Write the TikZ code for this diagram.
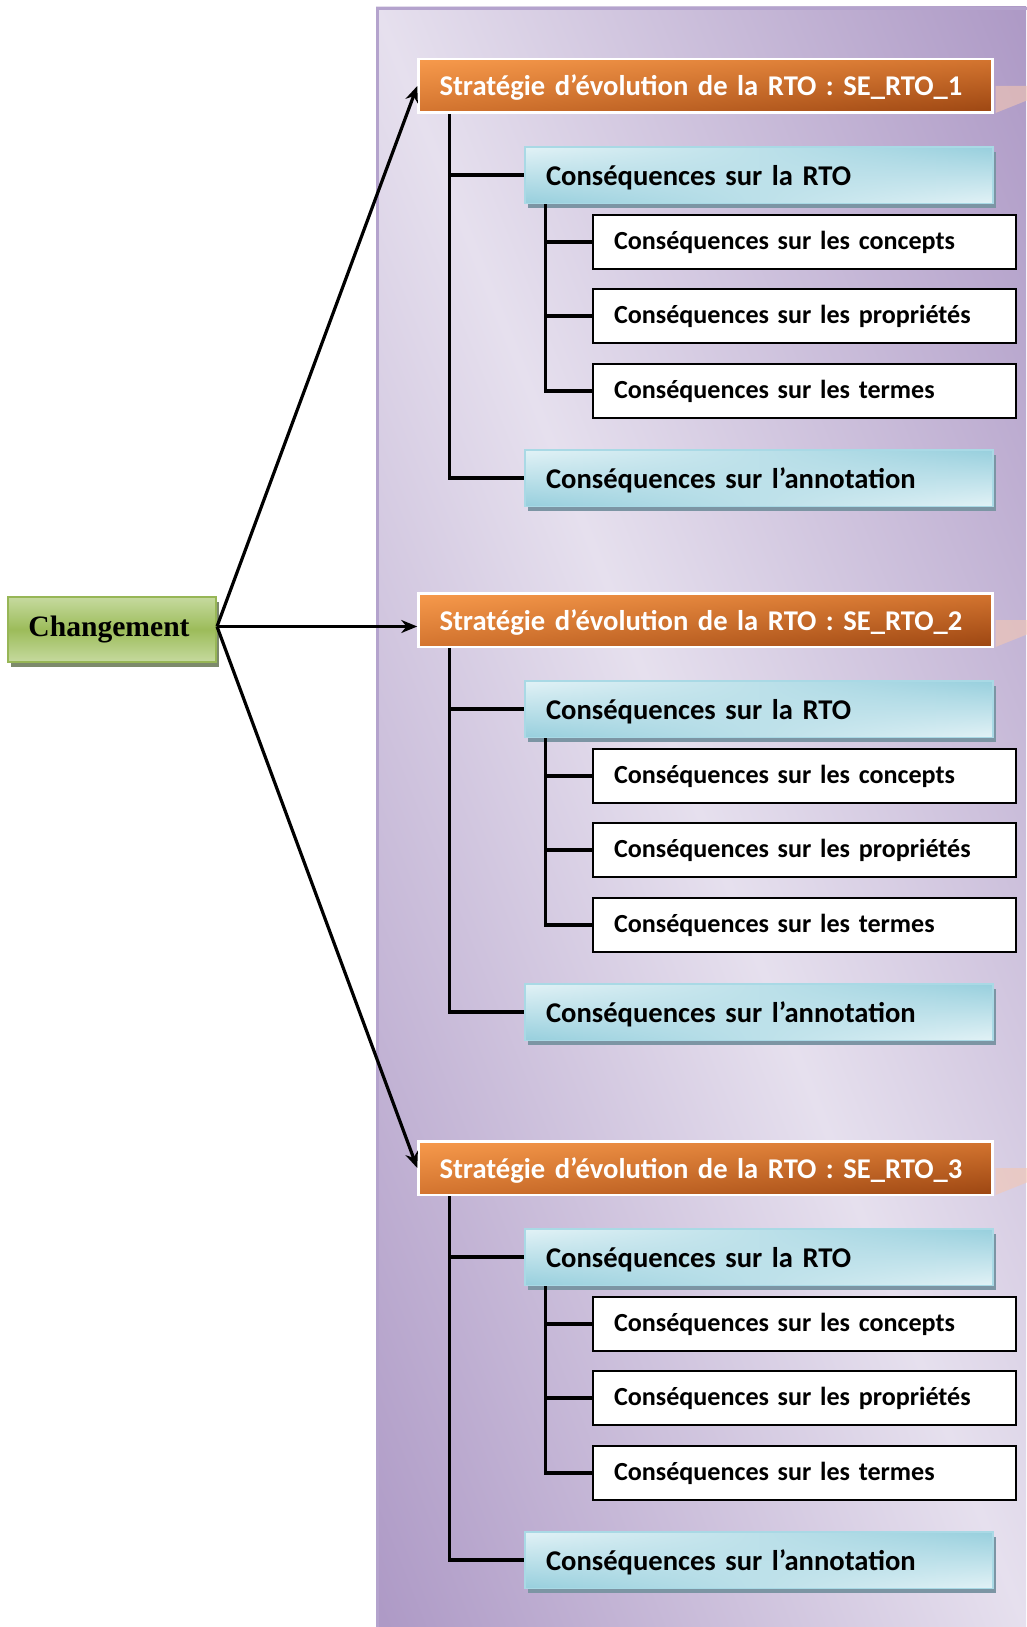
\documentclass[tikz,border=0pt]{standalone}
\usepackage{fontspec}
\newfontfamily\carl{Carlito}
\newfontfamily\tnrb{Liberation Serif}
\usetikzlibrary{arrows.meta,shadows,shadings}
\definecolor{panlight}{HTML}{E6E0EE}
\definecolor{pandark}{HTML}{AE9AC6}
\definecolor{panrim}{HTML}{B4A3CD}
\definecolor{orahi}{HTML}{F79A4C}
\definecolor{oramid}{HTML}{D3742F}
\definecolor{oralo}{HTML}{9C4612}
\definecolor{cyanhi}{HTML}{E2F2F6}
\definecolor{cyanlo}{HTML}{97CFDD}
\definecolor{cyanrim}{HTML}{A9D9E5}
\definecolor{cyanshade}{HTML}{7C95A4}
\definecolor{grnhi}{HTML}{C6DA9F}
\definecolor{grnmid}{HTML}{9CBC5A}
\definecolor{grnrim}{HTML}{97B656}
\definecolor{grnshade}{HTML}{7D8A6C}
\definecolor{peach}{HTML}{F4C7B2}
\pgfdeclarehorizontalshading{panelband}{100bp}{color(0bp)=(pandark); color(15bp)=(pandark); color(50bp)=(panlight); color(85bp)=(pandark); color(100bp)=(pandark)}

\begin{document}
\begin{tikzpicture}[x=1pt,y=-1pt,line join=miter,
  strat/.style={shade,upper left=orahi,upper right=oramid,lower left=oramid,lower right=oralo,
    draw=white,line width=2.5pt,minimum height=53.5pt,text width=532pt,inner xsep=21pt,
    text height=24pt,text depth=4pt,
    align=left,text=white,font=\carl\bfseries\fontsize{28.6}{32}\selectfont},
  cons/.style={shade,upper left=cyanhi,upper right=cyanlo,lower left=cyanlo,lower right=cyanhi,
    draw=cyanrim,line width=1.5pt,minimum height=56.5pt,text width=426pt,inner xsep=21pt,
    text height=24pt,text depth=4pt,
    align=left,font=\carl\bfseries\fontsize{28.6}{32}\selectfont,
    drop shadow={shadow xshift=3pt,shadow yshift=-5pt,fill=cyanshade,opacity=1}},
  detail/.style={fill=white,draw=black,line width=1.6pt,minimum height=54.5pt,text width=381pt,
    inner xsep=21pt,align=left,font=\carl\bfseries\fontsize{26.1}{30}\selectfont},
  chgbox/.style={top color=grnhi,bottom color=grnhi,middle color=grnmid,draw=grnrim,
    line width=2pt,minimum width=208pt,minimum height=65pt,
    font=\tnrb\bfseries\fontsize{29.6}{32}\selectfont,
    drop shadow={shadow xshift=3pt,shadow yshift=-5pt,fill=grnshade,opacity=1}},
  wedge/.style={fill=peach,opacity=.6},
  flow/.style={-{Stealth[length=16pt,width=13pt]},line width=3.2pt},
  trunk/.style={line width=3.4pt}]
  \useasboundingbox (0,0) rectangle (1026,1627);

  % ===== background panel =====
  \begin{scope}[transform canvas={shift={(376,1627)},xscale=6.5,yscale=16.2}]
    \shade[shading=panelband,shading angle=45] (0pt,0pt) rectangle (100pt,100pt);
  \end{scope}
  \draw[panrim,line width=2.5pt] (377.5,1640) |- (1040,8.5);

  % ===== change =====
  \node[chgbox] (chg) at (112,629.5) {\hspace*{-6pt}Changement};
  \coordinate (chgtip) at ([yshift=3pt]chg.east);

  % ===== strategies and their consequences =====
  \foreach \g/\dy in {1/0,2/534,3/1082}{
    \fill[wedge] (705.5,{86+\dy}) ++(290,0) -- ++(40,0) -- ++(0,11) -- ++(-40,16) -- cycle;
    \node[strat] (s\g) at (705.5,{86+\dy}) {Stratégie d’évolution de la RTO : SE\_RTO\_\g};
    \node[cons] (r\g) at (759,{175+\dy}) {Conséquences sur la RTO};
    \node[detail] (c\g) at (804.5,{242+\dy}) {Conséquences sur les concepts};
    \node[detail] (p\g) at (804.5,{316+\dy}) {Conséquences sur les propriétés};
    \node[detail] (t\g) at (804.5,{391+\dy}) {Conséquences sur les termes};
    \node[cons] (a\g) at (759,{478+\dy}) {Conséquences sur l’annotation};
    % tree lines
    \coordinate (k\g) at ([xshift=32pt]s\g.south west);
    \coordinate (m\g) at ([xshift=21.5pt]r\g.south west);
    \draw[trunk] (k\g) |- (a\g.west);
    \draw[trunk] (k\g |- r\g.west) -- (r\g.west);
    \draw[trunk] (m\g) |- (t\g.west);
    \foreach \n in {c,p}{
      \draw[trunk] (m\g |- \n\g.west) -- (\n\g.west);
    }
  }

  % ===== arrows =====
  \draw[flow] (chgtip) -- (s1.west);
  \draw[flow] (chgtip) -- (chgtip -| s2.west);
  \draw[flow] (chgtip) -- (s3.west);
\end{tikzpicture}
\end{document}
